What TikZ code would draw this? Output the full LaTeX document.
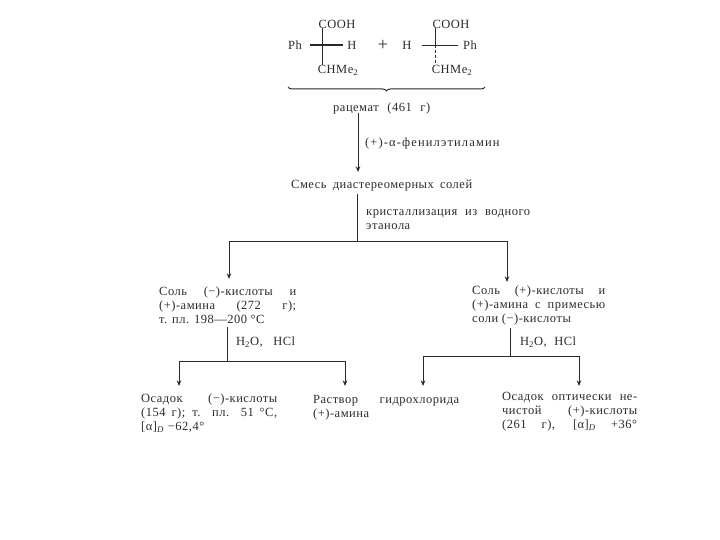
\documentclass[tikz,border=0pt]{standalone}
\usepackage{fontspec}
\setmainfont[LetterSpace=4]{Liberation Serif}
\usepackage{tikz}
\usetikzlibrary{arrows.meta,decorations.pathreplacing}
\definecolor{ink}{HTML}{2A2A2A}
\newcommand{\wline}[2]{\makebox[#1pt][s]{#2}}
\tikzset{
  txt/.style={inner sep=0pt, text=ink, align=left, anchor=west,
              font=\fontsize{12.5}{14}\selectfont},
  group/.style={txt, anchor=north west},
  lin/.style={line width=0.8pt, draw=ink},
  arr/.style={lin, -{Stealth[length=2mm, width=1.6mm]}},
}
\begin{document}
\begin{tikzpicture}[x=1pt, y=-1pt]
    \useasboundingbox (0,0) rectangle (720,540);
    % left enantiomer
    \node[txt, anchor=center] (cooha) at (337,24) {COOH};
    \node[txt, anchor=center] (pha) at (295,45) {Ph};
    \node[txt, anchor=center] (ha) at (352,45) {H};
    \node[txt, anchor=center] (chmea) at (338,70) {CHMe\textsubscript{2}};
    \coordinate (crossa) at (322,45);
    \draw[lin, line width=1.1pt] ([xshift=8pt]pha.east) -- ([xshift=-4pt]ha.west);
    \draw[lin, line width=0.5pt] (cooha.south -| crossa) -- (chmea.north -| crossa);
    \node[txt, anchor=center, font=\fontsize{18}{18}\selectfont] (plus) at (383,45) {+};
    % right enantiomer
    \node[txt, anchor=center] (coohb) at (451,24) {COOH};
    \node[txt, anchor=center] (hb) at (407,45) {H};
    \node[txt, anchor=center] (phb) at (470,45) {Ph};
    \node[txt, anchor=center] (chmeb) at (452,70) {CHMe\textsubscript{2}};
    \coordinate (crossb) at (435,45);
    \draw[lin] ([xshift=10pt]hb.east) -- ([xshift=-5pt]phb.west);
    \draw[lin, line width=0.5pt] (coohb.south -| crossb) -- (crossb);
    \draw[lin, densely dashed] (crossb) -- (chmeb.north -| crossb);
    % racemate
    \coordinate (bracea) at (288,87);
    \coordinate (braceb) at (485,87);
    \draw[lin, line width=1pt, decorate, decoration={brace, mirror, amplitude=4pt}] (bracea) -- (braceb);
    \node[txt] (racemate) at (333,108) {\wline{97}{рацемат (461 г)}};
    % mixture
    \node[txt] (mixture) at (291,186) {\wline{181}{Смесь диастереомерных солей}};
    \node[txt] (amine) at (365,143) {\wline{134}{\addfontfeatures{LetterSpace=9}(+)-α-фенилэтиламин}};
    \node[group] (cryst) at (366,209.5) {\wline{164}{кристаллизация из водного}\\этанола};
    \coordinate (topa) at (358,113);
    \coordinate (topb) at (358,172);
    \draw[arr] (topa) -- (topb);
    \coordinate (mixout) at (357,194);
    \coordinate (barm) at (357,241);
    \coordinate (barl) at (229,241);
    \coordinate (barr) at (507,241);
    \coordinate (inl) at (229,279);
    \coordinate (inr) at (507,282);
    \draw[lin] (mixout) -- (barm);
    \draw[lin] (barl) -- (barr);
    % salts
    \node[group] (salta) at (159,286.5) {\wline{137}{Соль (−)-кислоты и}\\\wline{137}{(+)-амина (272 г);}\\т. пл. 198---200 °C};
    \node[group] (saltb) at (472,286) {\wline{133}{Соль (+)-кислоты и}\\\wline{133}{(+)-амина с примесью}\\соли (−)-кислоты};
    \draw[arr] (barl) -- (inl);
    \draw[arr] (barr) -- (inr);
    % left branch
    \coordinate (ltop) at (227,327);
    \coordinate (lmid) at (227,361);
    \coordinate (lbl) at (179,361);
    \coordinate (lbr) at (345,361);
    \coordinate (outa) at (179,386);
    \coordinate (outb) at (345,386);
    \draw[lin] (ltop) -- (lmid);
    \draw[lin] (lbl) -- (lbr);
    \node[txt] (hcla) at (236,342) {\wline{59}{H\textsubscript{2}O, HCl}};
    \draw[arr] (lbl) -- (outa);
    \draw[arr] (lbr) -- (outb);
    \node[group] (proda) at (141,393.5) {\wline{136}{Осадок (−)-кислоты}\\\wline{136}{(154 г); т. пл. 51 °C,}\\{}[α]\textsubscript{\textit{D}} −62,4°};
    \node[group] (soln) at (313,395.5) {\wline{146}{Раствор гидрохлорида}\\(+)-амина};
    % right branch
    \coordinate (rtop) at (510,328);
    \coordinate (rmid) at (510,356);
    \coordinate (rbl) at (423,356);
    \coordinate (rbr) at (579,356);
    \coordinate (outc) at (423,386);
    \coordinate (outd) at (579,386);
    \draw[lin] (rtop) -- (rmid);
    \draw[lin] (rbl) -- (rbr);
    \node[txt] (hclb) at (520,342) {\wline{56}{H\textsubscript{2}O, HCl}};
    \draw[arr] (rbl) -- (outc);
    \draw[arr] (rbr) -- (outd);
    \node[group] (prodb) at (502,392.5) {\wline{135}{Осадок оптически не-}\\\wline{135}{чистой (+)-кислоты}\\\wline{135}{(261 г), [α]\textsubscript{\textit{D}} +36°}};
\end{tikzpicture}
\end{document}
